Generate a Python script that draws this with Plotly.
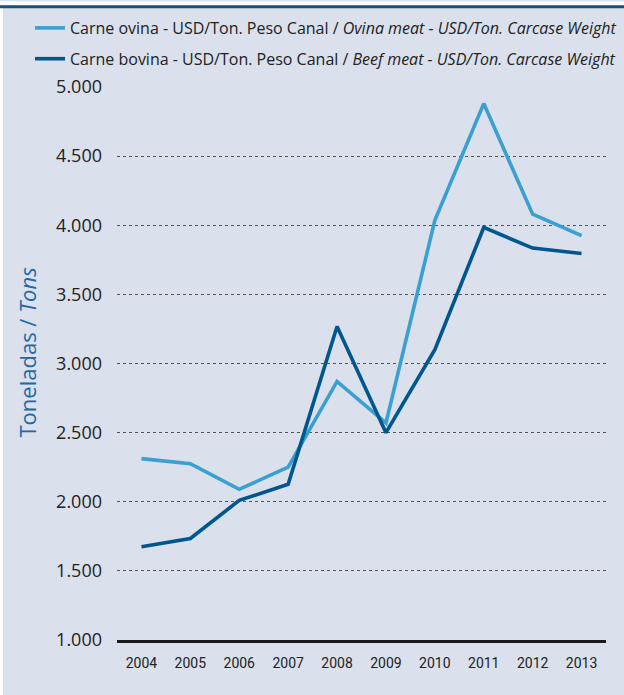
import plotly.graph_objects as go

years = ["2004", "2005", "2006", "2007", "2008", "2009", "2010", "2011", "2012", "2013"]
ovina = [2312, 2275, 2090, 2250, 2870, 2570, 4035, 4880, 4080, 3925]
bovina = [1674, 1734, 2010, 2126, 3267, 2500, 3100, 3984, 3835, 3796]
y_ticks = [1000, 1500, 2000, 2500, 3000, 3500, 4000, 4500, 5000]
y_tick_labels = ["1.000", "1.500", "2.000", "2.500", "3.000", "3.500", "4.000", "4.500", "5.000"]

BG = "#dae0ec"
C_OV = "#3a9fd1"
C_BOV = "#00578e"

fig = go.Figure()
fig.add_trace(go.Scatter(
    x=years, y=ovina, mode="lines", legendgroup="a",
    name="Carne ovina - USD/Ton. Peso Canal / <i>Ovina meat - USD/Ton. Carcase Weight</i>",
    line=dict(color=C_OV, width=3.6),
))
fig.add_trace(go.Scatter(
    x=years, y=bovina, mode="lines", legendgroup="b",
    name="Carne bovina - USD/Ton. Peso Canal / <i>Beef meat - USD/Ton. Carcase Weight</i>",
    line=dict(color=C_BOV, width=3.6),
))

L, R, T, B = 117, 18, 86, 55
W, H = 624, 695
pw, ph = W - L - R, H - T - B

def px(xp):
    return (xp - L) / pw

def py(yp):
    return (H - B - yp) / ph

fig.update_layout(
    width=W, height=H,
    margin=dict(l=L, r=R, t=T, b=B, pad=0),
    paper_bgcolor=BG, plot_bgcolor=BG,
    font=dict(family="Open Sans", color="#222222"),
    showlegend=True,
    legend=dict(
        x=px(30), y=py(11), xanchor="left", yanchor="top",
        bgcolor="rgba(0,0,0,0)", font=dict(size=16, color="#222222"),
        tracegroupgap=7, itemwidth=30,
    ),
    xaxis=dict(
        type="category", range=[-0.5, 9.5], showgrid=False, zeroline=False,
        showline=True, linecolor="#1a1a1a", linewidth=2.5,
        ticks="", ticklabelstandoff=8,
        tickfont=dict(family="Roboto", size=14, color="#222222"),
    ),
    yaxis=dict(
        range=[1000, 5000], tickvals=y_ticks, ticktext=y_tick_labels,
        showgrid=True, gridcolor="#555555", gridwidth=1, griddash="dot",
        zeroline=False, showline=False, ticks="", ticklabelstandoff=14,
        tickfont=dict(family="Open Sans", size=18, color="#222222"),
    ),
    annotations=[dict(
        text="Toneladas / <i>Tons</i>", textangle=-90,
        xref="paper", yref="paper", x=px(27), y=py(352),
        xanchor="center", yanchor="middle", showarrow=False,
        font=dict(family="Open Sans", size=22, color="#1e6aa5"),
    )],
    shapes=[
        dict(type="rect", xref="paper", yref="paper",
             x0=px(0), x1=px(W), y0=py(4), y1=py(0),
             fillcolor="white", line=dict(width=0)),
        dict(type="rect", xref="paper", yref="paper",
             x0=px(0), x1=px(3), y0=py(H), y1=py(4),
             fillcolor="white", line=dict(width=0)),
        dict(type="line", xref="paper", yref="paper",
             x0=px(0), x1=px(W), y0=py(5.5), y1=py(5.5),
             line=dict(color="#1b4f7c", width=3)),
    ],
)

fig.write_html("out.html", config={"displayModeBar": False},
               post_script="document.body.style.margin='0';")
